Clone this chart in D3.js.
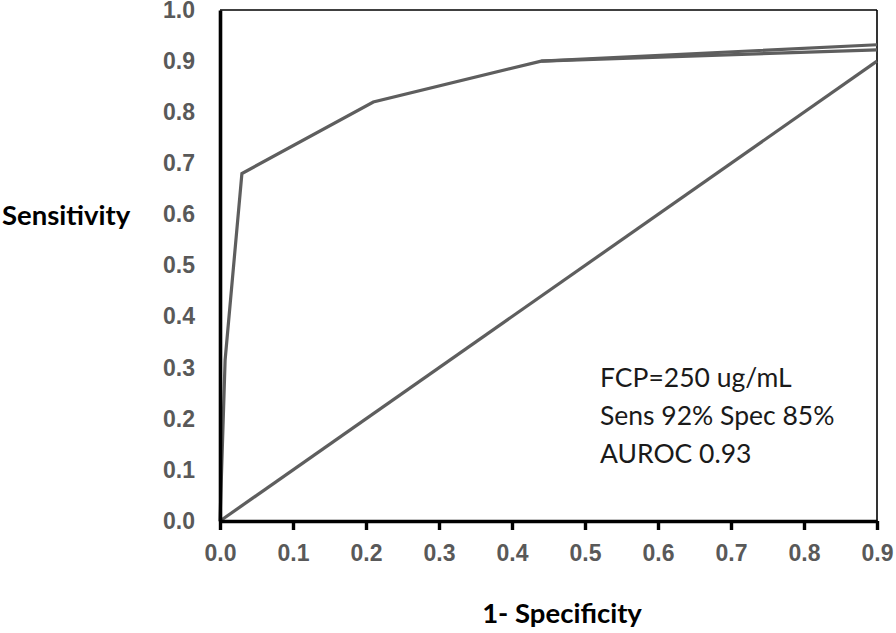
<!DOCTYPE html>
<html>
<head>
<meta charset="utf-8">
<script src="https://cdn.jsdelivr.net/npm/d3@7"></script>
<style>
  html, body { margin: 0; padding: 0; background: #fff; }
  svg { display: block; }
</style>
</head>
<body>
<svg id="chart" width="896" height="633"></svg>
<script>
// ---- data ----
const xTicks = [0, 0.1, 0.2, 0.3, 0.4, 0.5, 0.6, 0.7, 0.8, 0.9];
const yTicks = [0, 0.1, 0.2, 0.3, 0.4, 0.5, 0.6, 0.7, 0.8, 0.9, 1.0];
const rocFpr = [0, 0.007, 0.03, 0.21, 0.44, 0.9];
const rocTpr = [0, 0.315, 0.68, 0.82, 0.90, 0.932];
const rocAltFpr = [0.44, 0.9];
const rocAltTpr = [0.90, 0.922];
const refFpr = [0, 0.9];
const refTpr = [0, 0.9];
const xTitle = "1- Specificity";
const yTitle = "Sensitivity";
const notes = ["FCP=250 ug/mL", "Sens 92% Spec 85%", "AUROC 0.93"];

// ---- layout ----
const svg = d3.select("#chart");
const pLeft = 220, pRight = 877, pTop = 10, pBottom = 521;
const x = d3.scaleLinear().domain([0, 0.9]).range([pLeft, pRight]);
const y = d3.scaleLinear().domain([0, 1]).range([pBottom, pTop]);

const lineColor = "#5e5e5e";
const tickColor = "#595959";

// top & right frame
svg.append("line").attr("x1", pLeft).attr("x2", pRight).attr("y1", pTop).attr("y2", pTop)
  .attr("stroke", "#000").attr("stroke-width", 1.6);
svg.append("line").attr("x1", pRight).attr("x2", pRight).attr("y1", pTop).attr("y2", pBottom)
  .attr("stroke", "#000").attr("stroke-width", 1.6);

// lines
const line = d3.line().x(d => x(d[0])).y(d => y(d[1]));
function drawLine(xs, ys) {
  svg.append("path")
    .datum(xs.map((v, i) => [v, ys[i]]))
    .attr("d", line)
    .attr("fill", "none")
    .attr("stroke", lineColor)
    .attr("stroke-width", 3.2)
    .attr("stroke-linejoin", "miter");
}
drawLine(refFpr, refTpr);
drawLine(rocAltFpr, rocAltTpr);
drawLine(rocFpr, rocTpr);

// x axis
const xAxis = svg.append("g").attr("transform", `translate(0,${pBottom})`)
  .call(d3.axisBottom(x).tickValues(xTicks).tickFormat(d3.format(".1f"))
    .tickSize(9).tickSizeOuter(0).tickPadding(15));
xAxis.select(".domain").attr("stroke", "#000").attr("stroke-width", 3.6);
xAxis.selectAll(".tick line").attr("stroke", "#000").attr("stroke-width", 3.4);
xAxis.selectAll(".tick text")
  .attr("fill", tickColor)
  .style("font-family", "'Liberation Sans', Arial, sans-serif")
  .style("font-weight", "bold")
  .style("font-size", "23px");

// y axis
const yAxis = svg.append("g").attr("transform", `translate(${pLeft},0)`)
  .call(d3.axisLeft(y).tickValues(yTicks).tickFormat(d3.format(".1f"))
    .tickSize(0).tickPadding(25));
yAxis.select(".domain").attr("stroke", "#000").attr("stroke-width", 3.6);
yAxis.selectAll(".tick text")
  .attr("fill", tickColor)
  .style("font-family", "'Liberation Sans', Arial, sans-serif")
  .style("font-weight", "bold")
  .style("font-size", "23px");

// axis titles
svg.append("text").attr("x", 2).attr("y", 225)
  .text(yTitle)
  .style("font-family", "Lato, 'Open Sans', sans-serif")
  .style("font-weight", "bold").style("font-size", "27.5px").attr("fill", "#000");
svg.append("text").attr("x", 562).attr("y", 623).attr("text-anchor", "middle")
  .text(xTitle)
  .style("font-family", "Lato, 'Open Sans', sans-serif")
  .style("font-weight", "bold").style("font-size", "27.5px").attr("fill", "#000");

// annotation
svg.append("g").selectAll("text").data(notes).join("text")
  .attr("x", 600)
  .attr("y", (d, i) => 387 + i * 38)
  .text(d => d)
  .style("font-family", "Lato, 'Open Sans', sans-serif")
  .style("font-size", "26.5px")
  .attr("fill", "#1a1a1a");
</script>
</body>
</html>
